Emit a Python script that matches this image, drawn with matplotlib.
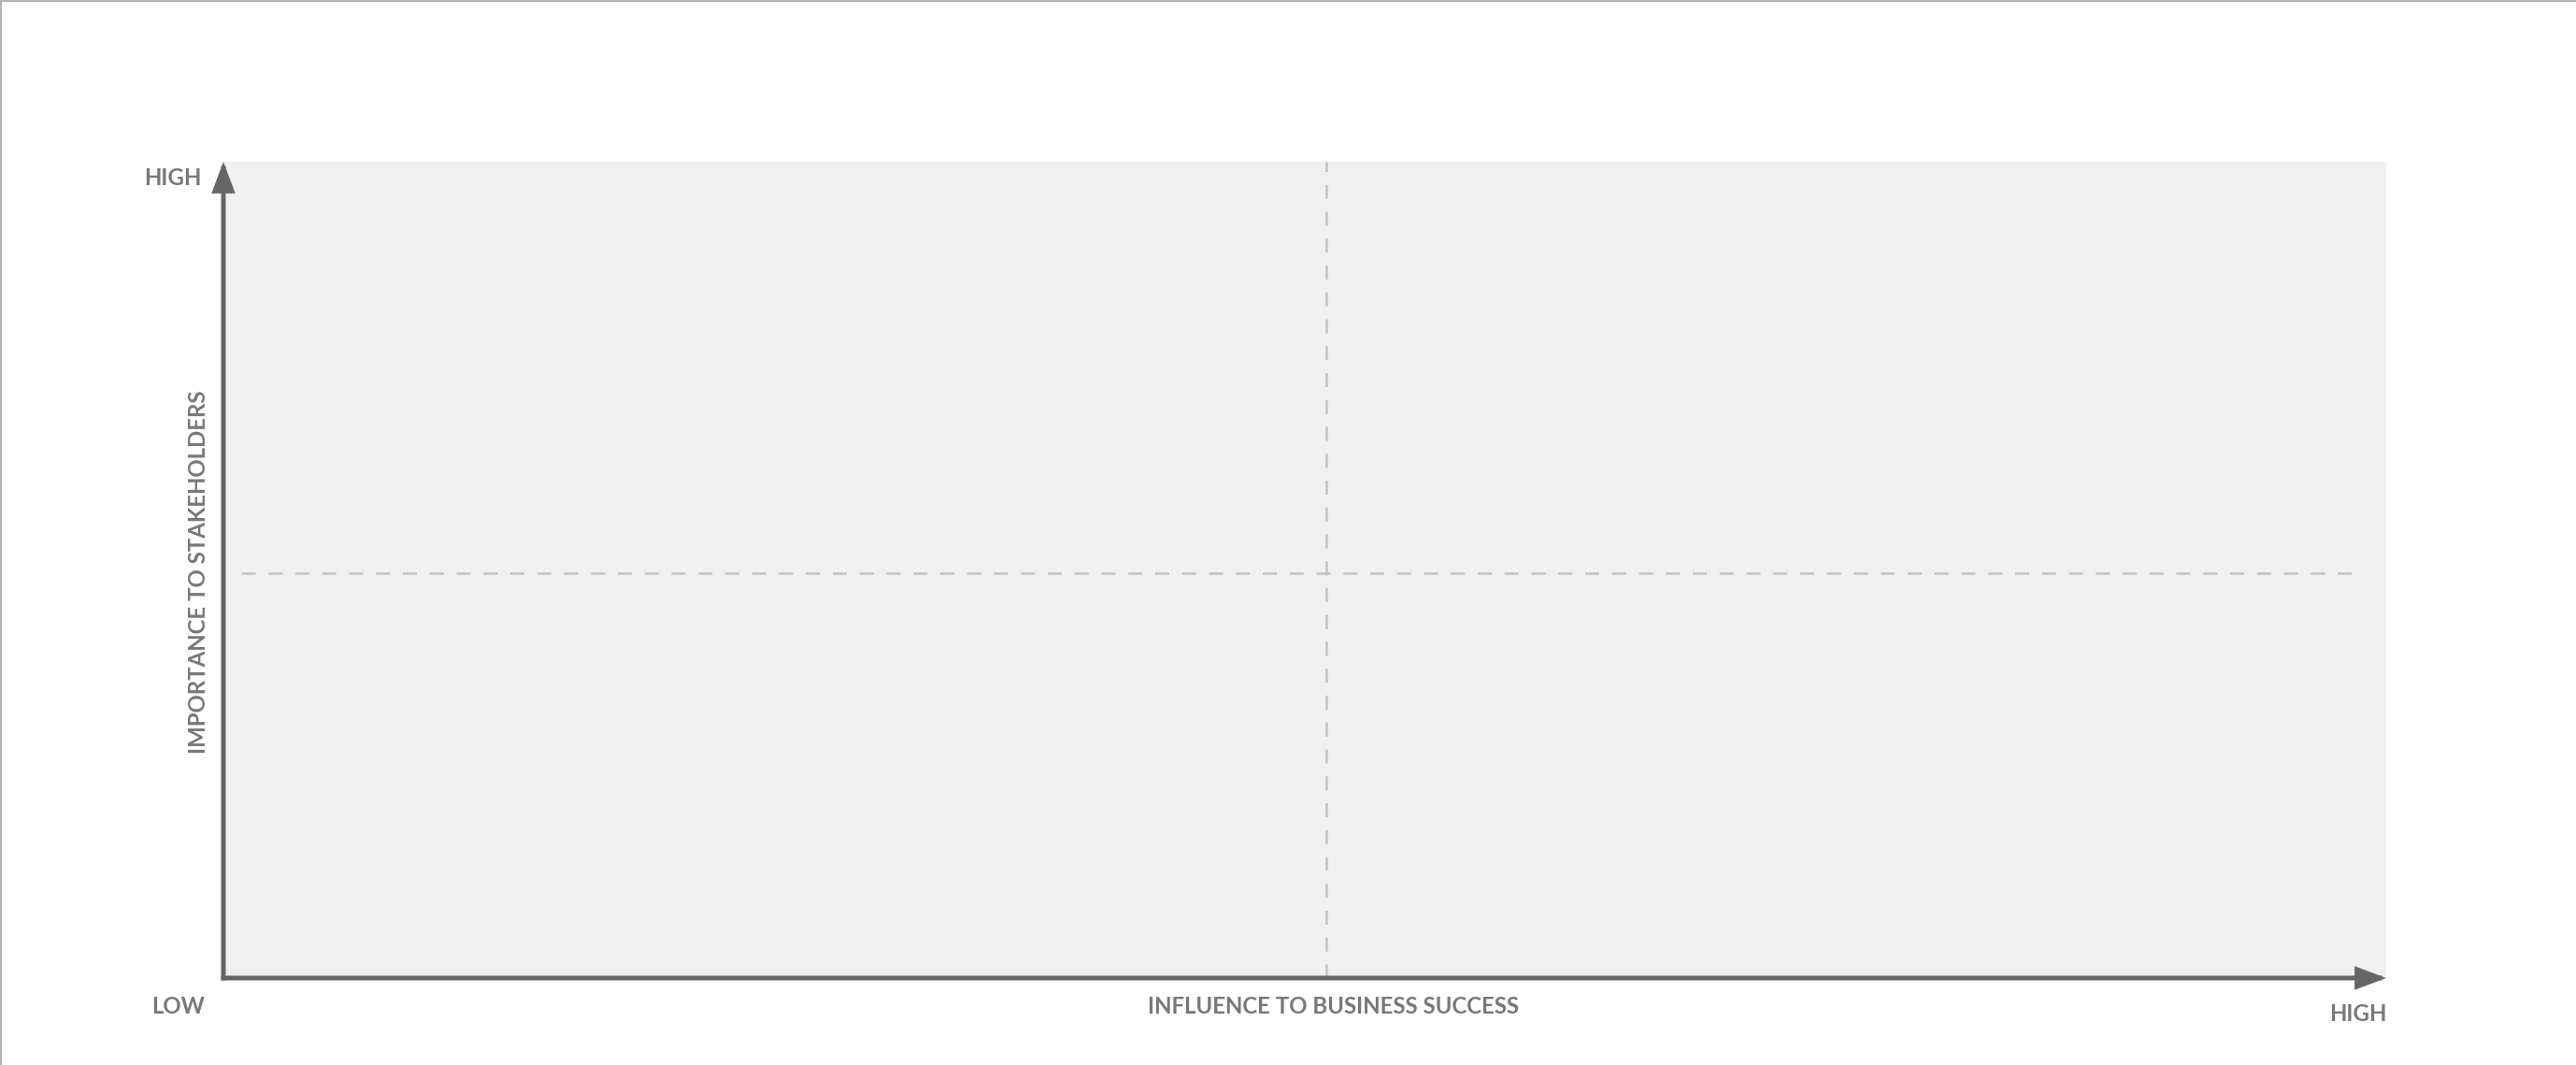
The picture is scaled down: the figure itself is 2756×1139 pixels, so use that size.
import matplotlib.pyplot as plt

# axis labels and quadrant split (data space 0..1)
x_label = "INFLUENCE TO BUSINESS SUCCESS"
y_label = "IMPORTANCE TO STAKEHOLDERS"
low_label = "LOW"
high_label = "HIGH"
x_mid = 0.510
y_mid = 0.496
h_line_span = [0.008, 0.987]

W, H = 2756, 1139
AX_COLOR = "#666666"
TEXT_COLOR = "#77787b"
DASH_COLOR = "#c2c2c2"

plt.rcParams["font.family"] = ["Lato", "DejaVu Sans"]


def px(x, y):
    """pixel position (from top-left) -> figure fraction"""
    return x / W, 1 - y / H


fig = plt.figure(figsize=(W / 100, H / 100), dpi=100)

# thin frame on top and left edge
fig.add_artist(plt.Line2D([0.0004, 0.0004], [0, 1], color="#b3b3b3", lw=1.5))
fig.add_artist(plt.Line2D([0, 1], [0.9991, 0.9991], color="#b3b3b3", lw=1.5))

left, top, right, bottom = 239, 173, 2553, 1046
ax = fig.add_axes([left / W, 1 - bottom / H, (right - left) / W, (bottom - top) / H])
ax.set_xlim(0, 1)
ax.set_ylim(0, 1)
ax.set_facecolor("#f0f0f0")
for s in ax.spines.values():
    s.set_visible(False)
ax.set_xticks([])
ax.set_yticks([])

# dashed quadrant lines
ax.plot([x_mid, x_mid], [0, 1], color=DASH_COLOR, lw=1.8, dashes=(6, 5.5), zorder=1)
ax.plot(h_line_span, [y_mid, y_mid], color=DASH_COLOR, lw=1.8, dashes=(6, 5.5), zorder=1)

# axes with arrow heads
arrow = dict(arrowstyle="-|>,head_length=17.5,head_width=6.6", color=AX_COLOR,
             lw=3.6, shrinkA=0, shrinkB=0, mutation_scale=1, joinstyle="miter",
             capstyle="projecting")
ax.annotate("", xy=(1, 0), xytext=(0, 0), arrowprops=arrow, annotation_clip=False)
ax.annotate("", xy=(0, 1), xytext=(0, 0), arrowprops=arrow, annotation_clip=False)

fs = 17.3
kw = dict(color=TEXT_COLOR, fontsize=fs, fontweight="bold")
fig.text(*px(216, 190.5), high_label, ha="right", va="center", **kw)
fig.text(*px(219, 1076.5), low_label, ha="right", va="center", **kw)
fig.text(*px(2553, 1084.5), high_label, ha="right", va="center", **kw)
fig.text(*px(1427, 1076), x_label, ha="center", va="center", **kw)
fig.text(*px(212, 612), y_label, ha="center", va="center", rotation=90, **kw)

fig.savefig("out.png", dpi=100)
